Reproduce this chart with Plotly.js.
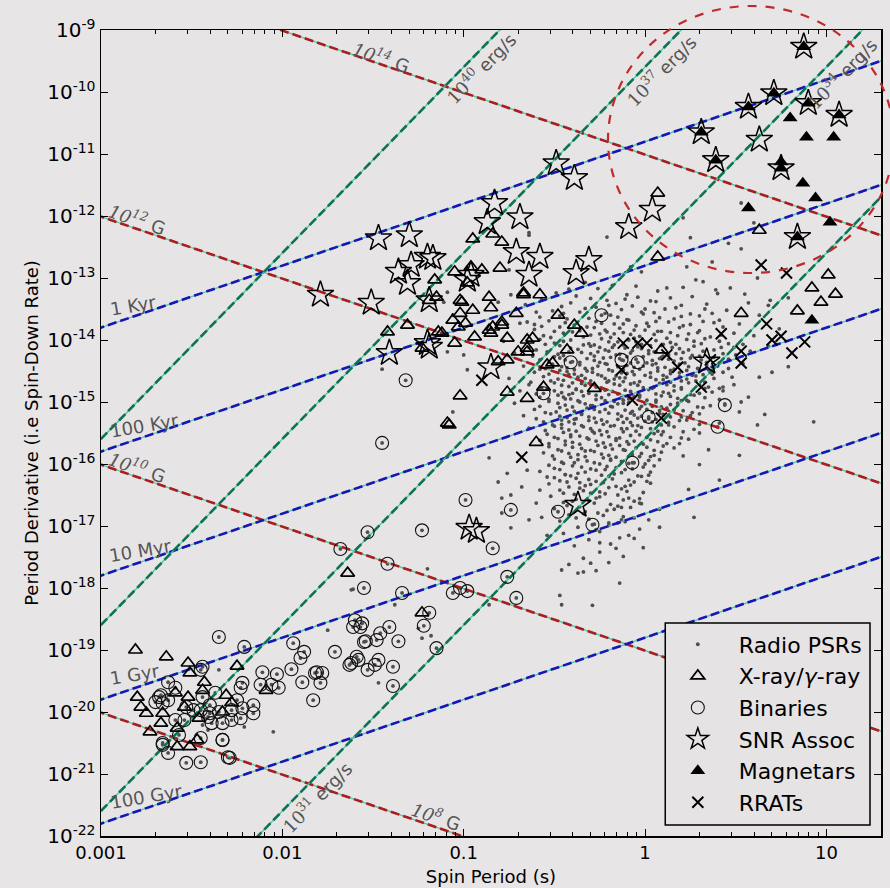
<!DOCTYPE html>
<html><head><meta charset="utf-8">
<script src="https://cdn.plot.ly/plotly-3.0.1.min.js"></script>
<style>html,body{margin:0;padding:0;background:#e8e5e7;}#chart{width:890px;height:888px;}</style>
</head><body><div id="chart"></div>
<script>
// ---- data: [log10 P (s), log10 Pdot] ----
const radioCore = [
[-0.33,-13.07],[-0.05,-13.13],[0.28,-13.03],[0.47,-13.16],[0.62,-13.0],
[-0.49,-13.24],[-0.26,-13.17],[-0.1,-13.27],[0.07,-13.21],[0.21,-13.15],[0.4,-13.25],
[-0.57,-13.35],[-0.38,-13.29],[-0.21,-13.36],[-0.04,-13.31],[0.06,-13.38],[0.26,-13.3],[0.55,-13.26],
[-0.66,-13.43],[-0.41,-13.4],[-0.27,-13.47],[-0.16,-13.41],[-0.07,-13.45],[0.03,-13.37],[0.17,-13.48],[0.34,-13.42],[0.69,-13.36],
[-0.51,-13.53],[-0.33,-13.49],[-0.22,-13.57],[-0.13,-13.51],[-0.02,-13.55],[0.11,-13.5],[0.25,-13.58],[0.45,-13.52],
[-0.58,-13.63],[-0.45,-13.57],[-0.31,-13.65],[-0.19,-13.6],[-0.1,-13.67],[-0.01,-13.58],[0.08,-13.64],[0.3,-13.61],[0.41,-13.68],[0.63,-13.6],
[-0.69,-13.73],[-0.53,-13.69],[-0.39,-13.76],[-0.27,-13.7],[-0.17,-13.74],[-0.09,-13.68],[0.01,-13.73],[0.13,-13.71],[0.21,-13.77],[0.32,-13.7],[0.52,-13.74],
[-0.61,-13.83],[-0.47,-13.79],[-0.36,-13.85],[-0.28,-13.8],[-0.21,-13.87],[-0.14,-13.81],[-0.06,-13.84],[0.02,-13.78],[0.09,-13.86],[0.19,-13.8],[0.3,-13.85],[0.43,-13.79],[0.74,-13.82],
[-0.56,-13.93],[-0.45,-13.89],[-0.34,-13.95],[-0.25,-13.9],[-0.19,-13.96],[-0.12,-13.88],[-0.03,-13.94],[0.05,-13.91],[0.12,-13.97],[0.24,-13.9],[0.36,-13.95],[0.49,-13.89],[0.6,-13.93],
[-0.78,-14.02],[-0.58,-13.99],[-0.5,-14.05],[-0.41,-14.0],[-0.31,-14.06],[-0.24,-13.98],[-0.15,-14.03],[-0.09,-14.0],[-0.02,-14.07],[0.06,-14.01],[0.14,-14.04],[0.23,-13.99],[0.31,-14.06],[0.41,-14.02],[0.54,-14.07],
[-0.64,-14.12],[-0.47,-14.09],[-0.37,-14.15],[-0.3,-14.1],[-0.22,-14.16],[-0.17,-14.08],[-0.11,-14.13],[-0.04,-14.11],[0.02,-14.17],[0.09,-14.09],[0.19,-14.14],[0.27,-14.1],[0.38,-14.16],[0.49,-14.12],[0.68,-14.1],
[-0.72,-14.21],[-0.54,-14.19],[-0.45,-14.25],[-0.35,-14.2],[-0.28,-14.26],[-0.2,-14.18],[-0.14,-14.23],[-0.08,-14.21],[-0.01,-14.27],[0.06,-14.19],[0.13,-14.24],[0.21,-14.2],[0.3,-14.26],[0.43,-14.22],[0.58,-14.18],
[-0.58,-14.32],[-0.47,-14.29],[-0.4,-14.35],[-0.32,-14.3],[-0.25,-14.36],[-0.19,-14.28],[-0.12,-14.33],[-0.05,-14.31],[0.01,-14.37],[0.08,-14.3],[0.16,-14.34],[0.25,-14.29],[0.34,-14.36],[0.46,-14.31],
[-0.67,-14.42],[-0.51,-14.39],[-0.43,-14.45],[-0.36,-14.4],[-0.29,-14.46],[-0.22,-14.38],[-0.15,-14.43],[-0.1,-14.41],[-0.03,-14.47],[0.04,-14.4],[0.11,-14.44],[0.19,-14.39],[0.29,-14.46],[0.4,-14.42],[0.54,-14.38],[0.79,-14.43],
[-0.61,-14.52],[-0.47,-14.49],[-0.39,-14.55],[-0.32,-14.5],[-0.26,-14.56],[-0.2,-14.48],[-0.13,-14.53],[-0.07,-14.51],[0.0,-14.57],[0.07,-14.5],[0.14,-14.54],[0.23,-14.49],[0.32,-14.56],[0.43,-14.52],
[-0.75,-14.62],[-0.56,-14.59],[-0.45,-14.65],[-0.37,-14.6],[-0.3,-14.66],[-0.24,-14.58],[-0.17,-14.63],[-0.11,-14.61],[-0.03,-14.67],[0.03,-14.6],[0.1,-14.64],[0.19,-14.59],[0.28,-14.66],[0.38,-14.62],[0.63,-14.6],
[-0.64,-14.72],[-0.5,-14.69],[-0.42,-14.75],[-0.35,-14.7],[-0.27,-14.76],[-0.21,-14.68],[-0.14,-14.73],[-0.08,-14.71],[-0.01,-14.77],[0.08,-14.7],[0.16,-14.74],[0.24,-14.69],[0.35,-14.76],[0.49,-14.72],
[-0.69,-14.82],[-0.54,-14.79],[-0.46,-14.85],[-0.38,-14.8],[-0.31,-14.86],[-0.24,-14.78],[-0.18,-14.83],[-0.11,-14.81],[-0.04,-14.87],[0.02,-14.8],[0.1,-14.84],[0.2,-14.79],[0.3,-14.86],[0.43,-14.82],
[-0.58,-14.92],[-0.48,-14.89],[-0.41,-14.95],[-0.34,-14.9],[-0.27,-14.96],[-0.2,-14.88],[-0.13,-14.93],[-0.06,-14.91],[0.01,-14.97],[0.09,-14.9],[0.18,-14.94],[0.27,-14.89],[0.41,-14.96],[0.57,-14.92],
[-0.72,-15.02],[-0.53,-14.99],[-0.44,-15.05],[-0.36,-15.0],[-0.29,-15.06],[-0.22,-14.98],[-0.15,-15.03],[-0.09,-15.01],[-0.02,-15.07],[0.06,-15.0],[0.14,-15.04],[0.24,-14.99],[0.36,-15.06],
[-0.61,-15.12],[-0.47,-15.09],[-0.39,-15.15],[-0.32,-15.1],[-0.25,-15.16],[-0.18,-15.08],[-0.11,-15.13],[-0.03,-15.11],[0.04,-15.17],[0.12,-15.1],[0.21,-15.14],[0.32,-15.09],[0.52,-15.16],
[-0.67,-15.22],[-0.52,-15.19],[-0.43,-15.25],[-0.35,-15.2],[-0.28,-15.26],[-0.2,-15.18],[-0.13,-15.23],[-0.06,-15.21],[0.02,-15.27],[0.1,-15.2],[0.2,-15.24],[0.3,-15.19],
[-0.56,-15.32],[-0.46,-15.29],[-0.39,-15.35],[-0.31,-15.3],[-0.23,-15.36],[-0.15,-15.28],[-0.08,-15.33],[0.0,-15.31],[0.09,-15.37],[0.19,-15.3],[0.41,-15.34],
[-0.64,-15.42],[-0.5,-15.39],[-0.42,-15.45],[-0.34,-15.4],[-0.25,-15.46],[-0.17,-15.38],[-0.1,-15.43],[-0.02,-15.41],[0.07,-15.47],[0.16,-15.4],[0.27,-15.44],
[-0.54,-15.52],[-0.45,-15.49],[-0.36,-15.55],[-0.28,-15.5],[-0.2,-15.56],[-0.12,-15.48],[-0.03,-15.53],[0.05,-15.51],[0.14,-15.57],[0.3,-15.5],
[-0.58,-15.62],[-0.48,-15.59],[-0.4,-15.65],[-0.31,-15.6],[-0.23,-15.66],[-0.14,-15.58],[-0.06,-15.63],[0.03,-15.61],[0.12,-15.67],[0.24,-15.6],
[-0.53,-15.72],[-0.44,-15.69],[-0.35,-15.75],[-0.26,-15.7],[-0.18,-15.76],[-0.09,-15.68],[0.01,-15.73],[0.1,-15.71],[0.35,-15.77],
[-0.56,-15.82],[-0.46,-15.79],[-0.37,-15.85],[-0.28,-15.8],[-0.2,-15.86],[-0.11,-15.78],[-0.02,-15.83],[0.09,-15.81],[0.21,-15.87],
[-0.5,-15.92],[-0.41,-15.89],[-0.32,-15.95],[-0.23,-15.9],[-0.13,-15.96],[-0.03,-15.88],[0.08,-15.93],
[-0.53,-16.02],[-0.45,-15.99],[-0.35,-16.05],[-0.25,-16.0],[-0.16,-16.06],[-0.06,-15.98],[0.05,-16.03],[0.3,-16.01],
[-0.58,-16.12],[-0.47,-16.09],[-0.37,-16.15],[-0.27,-16.1],[-0.17,-16.16],[-0.07,-16.08],[0.03,-16.13],
[-0.5,-16.22],[-0.41,-16.19],[-0.31,-16.25],[-0.2,-16.2],[-0.09,-16.26],[0.02,-16.18],
[-0.53,-16.32],[-0.43,-16.29],[-0.33,-16.35],[-0.23,-16.3],[-0.11,-16.36],[0.01,-16.28],
[-0.47,-16.42],[-0.36,-16.39],[-0.25,-16.45],[-0.13,-16.4],[-0.01,-16.46],[0.24,-16.41],
[-0.52,-16.52],[-0.39,-16.49],[-0.27,-16.55],[-0.15,-16.5],[-0.03,-16.56],
[-0.45,-16.62],[-0.31,-16.59],[-0.19,-16.65],[-0.06,-16.6],
[-0.5,-16.72],[-0.36,-16.69],[-0.21,-16.75],[-0.08,-16.7],[0.08,-16.73],
[-0.42,-16.82],[-0.26,-16.79],[-0.12,-16.85],
[-0.47,-16.92],[-0.31,-16.89],[-0.15,-16.95],[0.02,-16.9],
[-0.37,-17.02],[-0.2,-16.99],[-0.03,-17.05],
[-0.45,-17.12],[-0.25,-17.09],[-0.09,-17.15],
[-0.31,-17.22],[-0.14,-17.19],
[-0.39,-17.32],[-0.19,-17.29],[-0.01,-17.35],
[-0.25,-17.42],[-0.34,-17.52],[-0.12,-17.49],[-0.42,-17.62],[-0.2,-17.59],[-0.27,-17.72],[-0.14,-17.92],[-0.47,-18.12],[-0.29,-18.28]
];
const radioDense = [
[-0.43,-13.66],[-0.24,-13.73],[-0.05,-13.77],[0.16,-13.66],
[-0.4,-13.87],[-0.17,-13.9],[0.0,-13.84],[0.14,-13.88],
[-0.52,-13.96],[-0.28,-14.08],[-0.06,-13.97],[0.1,-14.07],[0.33,-13.98],
[-0.42,-14.19],[-0.25,-14.12],[-0.07,-14.17],[0.1,-14.26],[0.24,-14.16],
[-0.5,-14.27],[-0.36,-14.36],[-0.16,-14.24],[0.04,-14.33],[0.2,-14.3],
[-0.55,-14.46],[-0.33,-14.46],[-0.18,-14.5],[-0.01,-14.42],[0.16,-14.47],[0.35,-14.48],
[-0.42,-14.56],[-0.22,-14.62],[-0.06,-14.56],[0.12,-14.6],[0.26,-14.57],
[-0.52,-14.66],[-0.33,-14.73],[-0.12,-14.67],[0.05,-14.76],[0.2,-14.66],
[-0.4,-14.86],[-0.22,-14.81],[-0.03,-14.89],[0.13,-14.86],[0.33,-14.78],
[-0.44,-14.95],[-0.3,-15.06],[-0.12,-14.97],[0.04,-15.07],[0.2,-14.98],
[-0.49,-15.16],[-0.28,-15.12],[-0.08,-15.18],[0.08,-15.14],[0.25,-15.22],
[-0.38,-15.27],[-0.21,-15.32],[-0.04,-15.26],[0.13,-15.33],
[-0.46,-15.36],[-0.29,-15.47],[-0.07,-15.38],[0.1,-15.48],
[-0.41,-15.56],[-0.16,-15.62],[0.01,-15.57],[0.19,-15.67],
[-0.33,-15.79],[-0.14,-15.7],[0.05,-15.86],
[-0.39,-15.98],[-0.19,-15.92],[0.0,-16.0],
[-0.44,-16.17],[-0.22,-16.09],[-0.02,-16.2],
[-0.36,-16.3],[-0.16,-16.36],[-0.3,-16.47],[-0.09,-16.55],
[-0.4,-16.6],[-0.13,-16.7],[-0.34,-16.8],[-0.2,-16.95],
[-0.27,-17.06],[-0.06,-17.2],[-0.16,-17.36],[-0.3,-17.6]
];
const radioDense2 = [
[-0.42,-13.18],[-0.18,-13.12],[0.12,-13.16],[-0.3,-13.33],[-0.11,-13.34],[0.14,-13.32],[-0.46,-13.46],[-0.2,-13.44],[0.0,-13.5],[0.2,-13.44],[-0.6,-13.55],[0.33,-13.5],
[-0.47,-13.61],[-0.36,-13.55],[-0.15,-13.63],[0.05,-13.56],[0.2,-13.62],[0.37,-13.57],
[-0.57,-13.78],[-0.44,-13.72],[-0.32,-13.79],[-0.12,-13.74],[0.06,-13.7],[0.25,-13.75],[0.38,-13.72],
[-0.5,-13.86],[-0.3,-13.92],[-0.22,-13.84],[-0.08,-13.91],[0.07,-13.86],[0.18,-13.93],[0.29,-13.88],[0.42,-13.92],
[-0.55,-14.07],[-0.45,-14.02],[-0.34,-14.08],[-0.2,-14.03],[-0.12,-14.08],[-0.05,-14.03],[0.03,-14.09],[0.17,-14.07],[0.27,-14.02],[0.46,-14.06],
[-0.6,-14.16],[-0.41,-14.13],[-0.26,-14.19],[-0.18,-14.12],[-0.02,-14.14],[0.05,-14.19],[0.15,-14.12],[0.32,-14.18],[0.42,-14.12],
[-0.62,-14.26],[-0.48,-14.23],[-0.3,-14.22],[-0.23,-14.29],[-0.1,-14.27],[0.02,-14.22],[0.09,-14.28],[0.17,-14.22],[0.26,-14.25],[0.38,-14.28],[0.5,-14.24],
[-0.53,-14.36],[-0.44,-14.32],[-0.28,-14.33],[-0.21,-14.39],[-0.14,-14.3],[-0.08,-14.37],[0.06,-14.38],[0.13,-14.31],[0.22,-14.37],[0.31,-14.32],[0.41,-14.37],
[-0.58,-14.47],[-0.46,-14.43],[-0.39,-14.48],[-0.26,-14.42],[-0.12,-14.48],[-0.06,-14.44],[0.07,-14.45],[0.14,-14.49],[0.24,-14.43],[0.34,-14.41],[0.46,-14.46],
[-0.53,-14.55],[-0.43,-14.51],[-0.35,-14.57],[-0.29,-14.52],[-0.16,-14.58],[-0.1,-14.54],[0.03,-14.53],[0.1,-14.57],[0.19,-14.53],[0.28,-14.58],[0.37,-14.55],
[-0.63,-14.68],[-0.48,-14.63],[-0.4,-14.69],[-0.33,-14.62],[-0.2,-14.66],[-0.14,-14.61],[-0.06,-14.69],[0.06,-14.64],[0.14,-14.68],[0.23,-14.63],[0.33,-14.68],
[-0.57,-14.77],[-0.46,-14.73],[-0.38,-14.79],[-0.3,-14.72],[-0.24,-14.78],[-0.17,-14.71],[-0.04,-14.73],[0.04,-14.78],[0.12,-14.72],[0.2,-14.77],[0.3,-14.72],[0.41,-14.78],
[-0.6,-14.87],[-0.5,-14.82],[-0.42,-14.88],[-0.35,-14.83],[-0.27,-14.89],[-0.15,-14.87],[-0.08,-14.83],[0.06,-14.87],[0.16,-14.82],[0.25,-14.88],[0.37,-14.84],
[-0.53,-14.96],[-0.45,-14.92],[-0.37,-14.98],[-0.24,-14.93],[-0.17,-14.99],[-0.09,-14.95],[-0.03,-14.92],[0.06,-14.97],[0.14,-14.91],[0.23,-14.97],[0.33,-14.93],
[-0.58,-15.07],[-0.48,-15.02],[-0.4,-15.08],[-0.33,-15.03],[-0.19,-15.07],[-0.12,-15.02],[0.0,-15.03],[0.09,-15.08],[0.18,-15.02],[0.29,-15.08],[0.44,-15.03],
[-0.55,-15.17],[-0.43,-15.13],[-0.35,-15.18],[-0.22,-15.12],[-0.15,-15.19],[-0.07,-15.15],[0.01,-15.12],[0.08,-15.18],[0.16,-15.13],[0.26,-15.17],
[-0.6,-15.27],[-0.47,-15.23],[-0.39,-15.28],[-0.31,-15.24],[-0.24,-15.29],[-0.1,-15.27],[-0.02,-15.23],[0.06,-15.28],[0.14,-15.24],[0.23,-15.29],
[-0.51,-15.37],[-0.42,-15.32],[-0.35,-15.38],[-0.27,-15.33],[-0.19,-15.39],[-0.12,-15.33],[-0.04,-15.38],[0.04,-15.32],[0.13,-15.37],[0.3,-15.36],
[-0.55,-15.46],[-0.46,-15.42],[-0.38,-15.47],[-0.3,-15.43],[-0.21,-15.48],[-0.13,-15.43],[-0.05,-15.47],[0.03,-15.43],[0.21,-15.48],
[-0.5,-15.57],[-0.41,-15.53],[-0.32,-15.58],[-0.24,-15.53],[-0.16,-15.59],[-0.08,-15.54],[0.09,-15.53],[0.2,-15.58],
[-0.53,-15.67],[-0.44,-15.63],[-0.36,-15.68],[-0.27,-15.63],[-0.19,-15.69],[-0.1,-15.64],[-0.01,-15.68],[0.07,-15.64],
[-0.48,-15.77],[-0.4,-15.73],[-0.3,-15.78],[-0.22,-15.73],[-0.12,-15.77],[-0.05,-15.74],[0.05,-15.78],[0.16,-15.74],
[-0.51,-15.87],[-0.42,-15.83],[-0.33,-15.88],[-0.24,-15.84],[-0.16,-15.89],[-0.07,-15.85],[0.03,-15.88],
[-0.46,-15.97],[-0.37,-15.93],[-0.28,-15.98],[-0.19,-15.94],[-0.09,-15.99],[0.02,-15.94],
[-0.5,-16.07],[-0.4,-16.03],[-0.3,-16.08],[-0.21,-16.04],[-0.11,-16.09],[-0.01,-16.05],
[-0.44,-16.17],[-0.33,-16.13],[-0.24,-16.18],[-0.13,-16.14],[-0.04,-16.19],
[-0.47,-16.27],[-0.38,-16.23],[-0.27,-16.28],[-0.18,-16.24],[-0.06,-16.29],
[-0.42,-16.37],[-0.3,-16.33],[-0.2,-16.38],[-0.08,-16.34],
[-0.45,-16.47],[-0.34,-16.43],[-0.22,-16.48],[-0.1,-16.44],
[-0.38,-16.57],[-0.25,-16.53],[-0.12,-16.58],
[-0.43,-16.67],[-0.28,-16.63],[-0.15,-16.68],[-0.02,-16.64],
[-0.33,-16.77],[-0.17,-16.73],[-0.38,-16.87],[-0.23,-16.83],[-0.06,-16.87],[-0.28,-16.97],[-0.11,-16.93]
];
const radioScatter = [
[-1.09,-13.23],[-1.11,-13.39],[-1.06,-13.60],[-1.06,-15.16],[-0.98,-14.48],[-0.86,-15.90],[-0.81,-16.29],[-0.76,-16.15],
[-0.74,-17.03],[-0.65,-16.10],[-0.64,-16.90],[-0.79,-16.55],[-0.68,-16.37],[-0.58,-16.42],[-0.54,-16.21],[-0.60,-16.63],
[-0.57,-16.86],[-0.54,-17.15],[-0.46,-17.71],[-0.37,-17.76],[-0.34,-17.74],[-0.25,-17.27],[-0.13,-16.90],[-0.03,-16.63],
[0.03,-16.31],[0.08,-17.02],[0.27,-16.86],[0.41,-16.26],[0.52,-15.86],[0.62,-15.37],[0.70,-14.52],[0.93,-15.32],
[0.53,-15.0],[0.43,-14.76],[0.48,-14.6],[0.66,-15.2],
[0.68,-13.44],[0.79,-13.32],[0.57,-13.40],[0.25,-12.35],[0.46,-12.44],[0.53,-12.53],[0.37,-12.74],[0.32,-13.06],[0.39,-13.19],[0.23,-12.82],
[0.53,-11.79],[0.60,-12.11],[0.21,-12.03],[-0.21,-12.34],[-0.64,-12.27],[-0.02,-12.90],[-0.08,-12.82],
[-0.86,-18.27],[-0.46,-18.27],[-0.74,-16.50],[-0.79,-16.79],[-1.20,-17.69],[-1.61,-18.02],[-1.38,-18.27],
[-1.75,-18.68],[-1.25,-18.65],[-1.18,-18.77],[-1.23,-18.81],
[-2.35,-19.32],[-2.05,-20.32],[-1.47,-19.53],[-1.62,-18.03],[-2.21,-20.24],[-2.41,-20.29],[-2.44,-20.21],
[-1.45,-14.47],[-0.75,-12.87],[-0.74,-13.27],[-0.64,-12.31],[-0.65,-13.71],[-0.61,-13.75],[-0.81,-13.39],[-1.0,-14.24],[-1.09,-14.19]
];
const xrayGamma = [
[1.01,-12.95],[0.92,-13.16],[1.05,-13.26],[0.97,-13.39],[0.84,-13.53],[0.53,-13.57],[0.07,-11.63],[0.07,-12.66],[0.63,-12.23],
[0.09,-14.16],[-0.28,-14.78],[-0.60,-15.65],[-0.65,-14.94],[-0.76,-14.84],[-1.02,-14.90],[-1.08,-15.37],[-0.43,-14.16],[-0.48,-13.60],
[-0.35,-13.89],[-0.39,-13.76],[-0.51,-14.37],[-0.54,-14.40],[-0.56,-14.76],[-0.65,-14.00],[-0.62,-13.97],[-0.70,-14.19],[-0.65,-14.19],
[-0.76,-14.32],[-0.81,-14.35],[-0.76,-13.97],[-0.79,-13.76],[-0.86,-13.84],[-0.85,-13.48],[-0.71,-13.57],[-0.95,-13.52],[-0.94,-13.95],
[-1.05,-14.05],[-1.12,-13.89],[-1.02,-13.36],[-0.86,-13.31],[-0.67,-13.27],[-0.58,-13.27],[-1.06,-13.68],
[-0.84,-12.29],[-0.95,-12.37],[-0.79,-12.42],[-0.96,-12.82],[-1.05,-12.90],[-0.90,-12.87],[-0.80,-12.84],[-1.16,-13.03],[-0.98,-13.08],
[-0.67,-13.24],[-1.19,-13.36],[-1.15,-13.31],[-1.01,-13.39],[-1.02,-13.57],[-0.79,-13.71],[-0.84,-13.79],[-0.85,-13.89],[-0.65,-14.13],
[-1.42,-13.87],[-1.31,-13.76],[-1.14,-13.87],[-1.23,-14.13],[-0.99,-13.73],[-1.03,-13.79],
[-1.09,-15.34],[-1.64,-17.76],[-1.23,-18.40],
[-2.81,-19.00],[-2.64,-19.11],[-2.52,-19.21],[-2.51,-19.37],[-2.25,-19.26],[-2.43,-19.52],[-2.44,-19.65],[-2.80,-19.76],[-2.78,-19.92],
[-2.75,-20.02],[-2.66,-20.02],[-2.67,-20.18],[-2.73,-20.32],[-2.59,-19.69],[-2.52,-19.76],[-2.58,-20.26],[-2.58,-20.56],[-2.51,-20.56],
[-2.47,-20.45],[-2.54,-19.92],[-2.46,-20.10],[-2.31,-19.73],[-2.28,-19.85],[-2.09,-19.65],[-2.33,-20.00]
];
const binaries = [
[-2.35,-18.79],[-2.21,-18.95],[-1.94,-18.89],[-1.88,-19.03],[-1.90,-19.13],[-1.71,-19.03],[-1.61,-18.63],[-1.56,-18.57],[-1.55,-18.87],
[-1.62,-19.21],[-1.58,-19.16],[-1.53,-19.32],[-2.11,-19.36],[-2.03,-19.39],[-1.95,-19.31],[-1.89,-19.52],[-1.82,-19.37],[-1.78,-19.37],
[-1.79,-19.53],[-1.83,-19.81],[-2.22,-19.53],[-2.12,-19.56],[-2.06,-19.56],[-2.02,-19.61],[-2.23,-19.61],[-2.16,-19.89],[-2.16,-20.02],
[-2.22,-19.94],[-2.33,-20.45],[-2.30,-20.73],[-2.45,-20.81],[-2.53,-20.82],[-2.63,-20.66],[-2.66,-20.53],[-2.45,-20.42],[-2.57,-20.37],
[-2.63,-19.52],[-2.68,-19.76],[-2.66,-19.86],[-2.59,-20.13],[-2.53,-19.92],[-2.54,-20.13],[-2.41,-20.08],[-2.39,-20.18],[-2.33,-20.18],
[-2.28,-20.13],[-2.23,-20.10],[-2.40,-19.89],[-2.35,-20.00],[-2.44,-19.76],[-2.37,-19.69],[-2.59,-19.61],[-2.45,-19.32],[-2.44,-19.27],
[-2.28,-19.97],[-2.25,-19.81],[-2.45,-19.97],[-2.49,-19.97],[-2.40,-20.02],[-2.67,-19.73],[-2.70,-19.84],[-2.63,-19.81],[-2.66,-20.50],
[-2.29,-20.74],[-2.33,-20.45],
[-1.60,-18.52],[-1.57,-18.63],[-1.54,-18.86],[-1.48,-18.84],[-1.46,-18.73],[-1.41,-18.63],[-1.36,-18.86],[-1.34,-18.08],[-1.55,-18.00],
[-1.19,-18.40],[-1.22,-18.61],[-1.15,-18.97],[-1.49,-19.24],[-1.47,-19.16],[-1.39,-19.27],[-1.39,-19.58],[-1.63,-19.24],[-1.59,-19.11],
[-1.81,-19.36],
[-0.99,-16.58],[-0.74,-16.74],[-1.23,-17.07],[-1.53,-17.10],[-1.68,-17.37],[-0.84,-17.36],[-1.42,-17.61],[-0.76,-17.82],[-1.06,-18.08],
[-1.02,-18.00],[-0.98,-18.05],[-0.71,-18.16],[-1.32,-14.65],[-1.45,-15.66],[-0.48,-16.77],[-0.29,-16.98],[-0.24,-13.60],[-0.56,-14.86],
[-0.13,-14.32],[-0.04,-14.36],[-0.41,-14.36],[0.02,-15.24],[-0.07,-15.98],[0.44,-15.05],[0.40,-15.40]
];
const snrAssoc = [
[-1.79,-13.27],[-1.51,-13.40],[-1.47,-12.36],[-1.30,-12.31],[-1.36,-12.90],[-1.29,-12.79],[-1.31,-13.08],[-1.20,-12.66],[-1.17,-12.68],
[-1.19,-13.36],[-1.20,-14.05],[-1.41,-14.21],[-1.19,-14.11],[-0.98,-13.03],[-0.96,-12.95],[-0.87,-12.10],[-0.83,-11.79],[-0.69,-12.02],
[-0.71,-12.58],[-0.58,-12.66],[-0.64,-12.95],[-0.38,-12.92],[-0.31,-12.71],[-0.49,-11.15],[-0.39,-11.39],[-0.09,-12.18],[0.04,-11.90],
[0.63,-10.77],[-0.85,-14.44],[0.34,-14.35],[-0.37,-16.66],[-0.97,-17.03],[-0.93,-17.08],
[0.875,-9.27],[0.57,-10.24],[0.71,-10.02],[0.90,-10.18],[1.07,-10.37],[0.31,-10.65],[0.39,-11.10],[0.75,-11.23],[0.84,-12.34]
];
const magnetars = [
[0.875,-9.27],[0.57,-10.24],[0.71,-10.02],[0.90,-10.18],[1.07,-10.37],[0.80,-10.42],[0.89,-10.73],[1.04,-10.73],[0.31,-10.65],
[0.39,-11.10],[0.75,-11.13],[0.75,-11.23],[0.87,-11.47],[0.94,-11.71],[0.57,-11.87],[1.02,-12.10],[0.84,-12.34],[0.92,-13.68]
];
const rrats = [
[0.64,-12.79],[0.78,-12.92],[0.67,-13.74],[0.42,-13.90],[0.70,-14.00],[0.75,-13.94],[0.88,-14.03],[0.81,-14.21],[0.53,-14.18],
[0.53,-14.37],[0.36,-14.32],[0.31,-14.76],[-0.12,-14.05],[-0.04,-14.05],[0.01,-14.05],[-0.13,-14.48],[0.12,-14.24],[0.18,-14.44],
[-0.07,-14.97],[0.09,-15.26],[-0.90,-14.65],[-0.68,-15.89]
];
// guide-line levels
const bFieldsG = [1e8, 1e10, 1e12, 1e14];
const agesYr = [1e3, 1e5, 1e7, 1e9, 1e11];
const edotsErg = [1e31, 1e34, 1e37, 1e40];
// axis ticks
const xTickVals = [0.001, 0.01, 0.1, 1, 10];
const xTickText = ['0.001', '0.01', '0.1', '1', '10'];
const yTickExp = [-22,-21,-20,-19,-18,-17,-16,-15,-14,-13,-12,-11,-10,-9];

// ---- build ----
const X = a => a.map(p => Math.pow(10, p[0]));
const Y = a => a.map(p => Math.pow(10, p[1]));
const radioAll = radioCore.concat(radioDense, radioDense2, radioScatter);
const DOT = {symbol: 'circle', size: 3.8, color: '#4e4e4e', line: {width: 0}};
const traces = [];
traces.push({type: 'scatter', mode: 'markers', name: 'Radio PSRs', x: X(radioAll), y: Y(radioAll), marker: DOT, hoverinfo: 'skip'});
traces.push({type: 'scatter', mode: 'markers', showlegend: false, x: X(binaries), y: Y(binaries), marker: DOT, hoverinfo: 'skip'});

// guide lines
const PMIN = 0.0005, PMAX = 40, YR = 3.156e7, I45 = 1e45;
const guide = [];
function addGuide(xs, ys, color) {
  guide.push({type: 'scatter', mode: 'lines', x: xs, y: ys, showlegend: false, hoverinfo: 'skip',
    line: {color: '#48c9a4', width: 1.3}});
  guide.push({type: 'scatter', mode: 'lines', x: xs, y: ys, showlegend: false, hoverinfo: 'skip',
    line: {color: color, width: 2.6, dash: '9px,4px'}});
}
bFieldsG.forEach(B => { const k = Math.pow(B / 3.2e19, 2); addGuide([PMIN, PMAX], [k / PMIN, k / PMAX], '#a81d1d'); });
agesYr.forEach(t => { const s = 2 * t * YR; addGuide([PMIN, PMAX], [PMIN / s, PMAX / s], '#1616b4'); });
edotsErg.forEach(E => { const c = E / (4 * Math.PI * Math.PI * I45); addGuide([PMIN, PMAX], [c * Math.pow(PMIN, 3), c * Math.pow(PMAX, 3)], '#0d7352'); });

traces.push(...guide);
traces.push({type: 'scatter', mode: 'markers', name: 'X-ray/<i>γ</i>-ray', x: X(xrayGamma), y: Y(xrayGamma), hoverinfo: 'skip',
  marker: {symbol: 'triangle-up-open', size: 12, color: 'black', line: {width: 1.7}}});
traces.push({type: 'scatter', mode: 'markers', name: 'Binaries', x: X(binaries), y: Y(binaries), hoverinfo: 'skip',
  marker: {symbol: 'circle-open', size: 13, color: '#111', line: {width: 1.1}}});
traces.push({type: 'scatter', mode: 'markers', name: 'SNR Assoc', x: X(snrAssoc), y: Y(snrAssoc), hoverinfo: 'skip',
  marker: {symbol: 'star-open', size: 20, color: 'black', line: {width: 1.5}}});
traces.push({type: 'scatter', mode: 'markers', name: 'Magnetars', x: X(magnetars), y: Y(magnetars), hoverinfo: 'skip',
  marker: {symbol: 'triangle-up', size: 13, color: 'black', line: {width: 0}}});
traces.push({type: 'scatter', mode: 'markers', name: 'RRATs', x: X(rrats), y: Y(rrats), hoverinfo: 'skip',
  marker: {symbol: 'x-thin', size: 11, color: 'black', line: {color: 'black', width: 2}}});

// minor x ticks
const minorX = [];
for (let d = -3; d <= 1; d++) for (let k = 2; k <= 9; k++) { const v = k * Math.pow(10, d); if (v < 20) minorX.push(v); }

const SERIF = t => '<span style="font-family:DejaVu Serif"><i>' + t + '</i></span>';
const SERIFU = t => '<span style="font-family:DejaVu Serif">' + t + '</span>';
const labels = [
  {t: SERIF('10<sup>14</sup>') + ' G', x: 0.3598, y: 0.9665, a: 18.85},
  {t: SERIF('10<sup>12</sup>') + ' G', x: 0.0474, y: 0.7655, a: 18.85},
  {t: SERIF('10<sup>10</sup>') + ' G', x: 0.0474, y: 0.4578, a: 18.85},
  {t: SERIF('10<sup>8</sup>') + ' G', x: 0.4302, y: 0.0248, a: 18.85},
  {t: '1 Kyr', x: 0.041, y: 0.6588, a: -9.68},
  {t: '100 Kyr', x: 0.0563, y: 0.5087, a: -9.68},
  {t: '10 Myr', x: 0.0512, y: 0.3536, a: -9.68},
  {t: '1 Gyr', x: 0.0435, y: 0.1998, a: -9.68},
  {t: '100 Gyr', x: 0.0589, y: 0.0496, a: -9.68},
  {t: SERIFU('10<sup>31</sup>') + ' erg/s', x: 0.2766, y: 0.0484, a: -45.67},
  {t: SERIFU('10<sup>40</sup>') + ' erg/s', x: 0.4866, y: 0.9529, a: -45.67},
  {t: SERIFU('10<sup>37</sup>') + ' erg/s', x: 0.7183, y: 0.9504, a: -45.67},
  {t: SERIFU('10<sup>34</sup>') + ' erg/s', x: 0.9501, y: 0.9467, a: -45.67}
];
const annotations = labels.map(l => ({xref: 'paper', yref: 'paper', x: l.x, y: l.y, text: l.t, textangle: l.a,
  showarrow: false, xanchor: 'center', yanchor: 'middle', font: {family: 'DejaVu Sans', size: 18, color: '#555'}}));

const axisCommon = {showline: true, linecolor: 'black', linewidth: 1.5, mirror: 'ticks', ticks: 'inside',
  tickcolor: 'black', tickwidth: 1, ticklen: 7, showgrid: false, zeroline: false};

const layout = {
  width: 890, height: 888,
  margin: {l: 101, r: 9, t: 30, b: 52},
  paper_bgcolor: '#e8e5e7', plot_bgcolor: '#e7e4e6',
  showlegend: true,
  xaxis: Object.assign({}, axisCommon, {type: 'log', range: [-3, Math.log10(20)], autorange: false,
    tickmode: 'array', tickvals: xTickVals, ticktext: xTickText,
    tickfont: {family: 'DejaVu Sans', size: 18, color: 'black'},
    minor: {tickmode: 'array', tickvals: minorX, ticks: 'inside', ticklen: 4, tickcolor: 'black', tickwidth: 1, showgrid: false},
    title: {text: 'Spin Period (s)', font: {family: 'DejaVu Sans', size: 18, color: 'black'}, standoff: 8}}),
  yaxis: Object.assign({}, axisCommon, {type: 'log', range: [-22, -9], autorange: false,
    tickmode: 'array', tickvals: yTickExp.map(e => Math.pow(10, e)), ticktext: yTickExp.map(e => '10<sup>' + e + '</sup>'),
    tickfont: {family: 'DejaVu Sans', size: 20, color: 'black'},
    title: {text: 'Period Derivative (i.e Spin-Down Rate)', font: {family: 'DejaVu Sans', size: 18, color: 'black'}, standoff: 4}}),
  legend: {x: 0.7126, y: 0.2637, xanchor: 'left', yanchor: 'top', bgcolor: 'rgba(0,0,0,0)', borderwidth: 0,
    font: {family: 'DejaVu Sans', size: 22, color: 'black'}, itemwidth: 72, tracegroupgap: 0},
  shapes: [
    {type: 'circle', xref: 'paper', yref: 'paper', x0: 0.650, x1: 1.0166, y0: 0.6985, y1: 1.0298,
      line: {color: '#c02a2a', width: 2.2, dash: 'dash'}},
    {type: 'rect', xref: 'paper', yref: 'paper', layer: 'above', x0: 0.7234, x1: 0.9859, y0: 0.01365, y1: 0.2643,
      fillcolor: '#e6e3e5', line: {color: 'black', width: 1.5}}
  ],
  annotations: annotations
};
Plotly.newPlot('chart', traces, layout, {displayModeBar: false, staticPlot: true});
</script></body></html>
